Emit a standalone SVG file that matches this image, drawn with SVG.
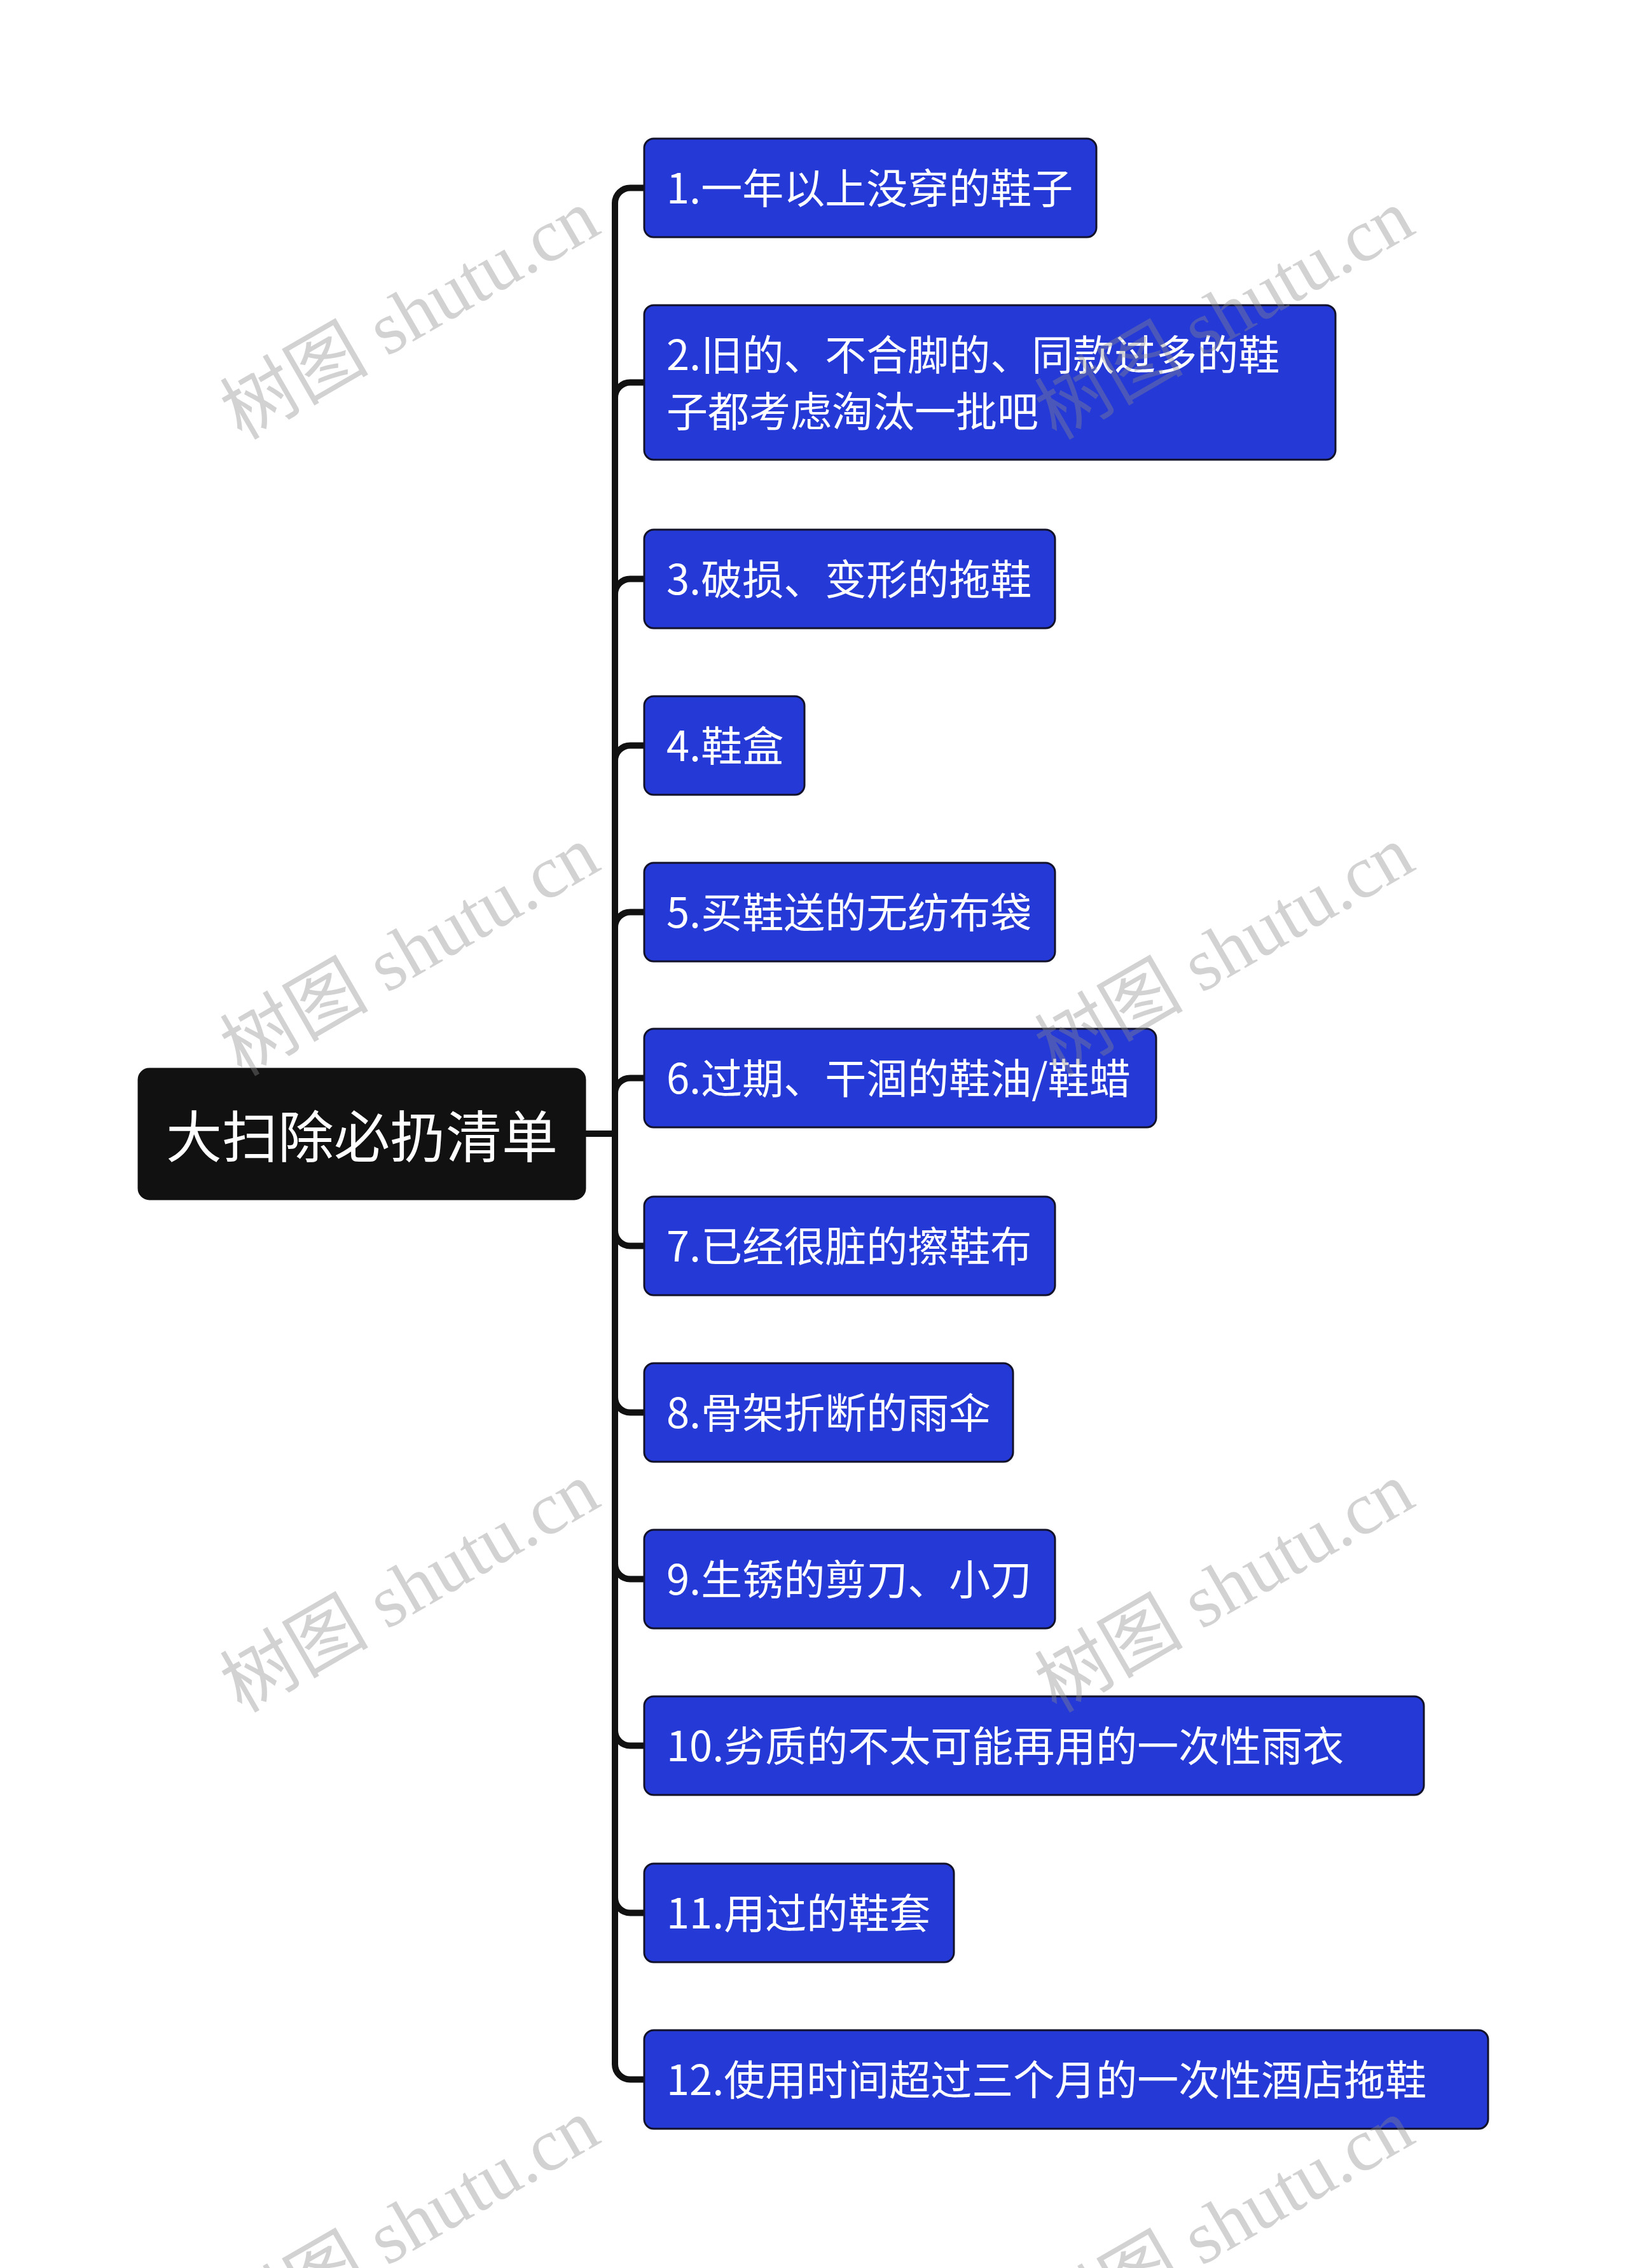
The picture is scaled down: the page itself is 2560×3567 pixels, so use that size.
<svg xmlns="http://www.w3.org/2000/svg" width="2560" height="3567" viewBox="0 0 2560 3567">
<style>
.node rect{fill:#2539d6;stroke:#12122a;stroke-width:3}
.node text{fill:#ffffff;font-family:"Noto Sans CJK SC","Noto Sans",sans-serif;font-size:65px;dominant-baseline:central}
.root rect{fill:#111111;stroke:#111111;stroke-width:3}
.root text{fill:#ffffff;font-family:"Noto Sans CJK SC","Noto Sans",sans-serif;font-size:88px;dominant-baseline:central;text-anchor:middle}
.conn path{fill:none;stroke:#111111;stroke-width:10;stroke-linejoin:round}
.wm{fill:#8c8c8c;opacity:0.38;font-family:"Liberation Serif","Noto Sans CJK SC",serif;font-size:117px}
</style>
<rect x="0" y="0" width="2560" height="3567" fill="#ffffff"/>
<g id="connectors" class="conn">
<path d="M920 1783 H967 V319.5 A24 24 0 0 1 991 295.5 H1013"/>
<path d="M967 1783 V625.5 A24 24 0 0 1 991 601.5 H1013"/>
<path d="M967 1783 V934.5 A24 24 0 0 1 991 910.5 H1013"/>
<path d="M967 1783 V1196.5 A24 24 0 0 1 991 1172.5 H1013"/>
<path d="M967 1783 V1458.5 A24 24 0 0 1 991 1434.5 H1013"/>
<path d="M967 1783 V1719.5 A24 24 0 0 1 991 1695.5 H1013"/>
<path d="M967 1783 V1935.5 A24 24 0 0 0 991 1959.5 H1013"/>
<path d="M967 1783 V2197.5 A24 24 0 0 0 991 2221.5 H1013"/>
<path d="M967 1783 V2459.5 A24 24 0 0 0 991 2483.5 H1013"/>
<path d="M967 1783 V2721.5 A24 24 0 0 0 991 2745.5 H1013"/>
<path d="M967 1783 V2984.5 A24 24 0 0 0 991 3008.5 H1013"/>
<path d="M967 1783 V3246.5 A24 24 0 0 0 991 3270.5 H1013"/>
</g>
<g id="root" class="root">
<rect x="218" y="1681" width="702" height="205" rx="17"/>
<text x="569" y="1781">大扫除必扔清单</text>
</g>
<g id="n1" class="node"><rect x="1013" y="218" width="711" height="155" rx="15"/><text x="1048" y="291.5">1.一年以上没穿的鞋子</text></g>
<g id="n2" class="node"><rect x="1013" y="480" width="1087" height="243" rx="15"/><text x="1048" y="554">2.旧的、不合脚的、同款过多的鞋</text><text x="1048" y="643">子都考虑淘汰一批吧</text></g>
<g id="n3" class="node"><rect x="1013" y="833" width="646" height="155" rx="15"/><text x="1048" y="906.5">3.破损、变形的拖鞋</text></g>
<g id="n4" class="node"><rect x="1013" y="1095" width="252" height="155" rx="15"/><text x="1048" y="1168.5">4.鞋盒</text></g>
<g id="n5" class="node"><rect x="1013" y="1357" width="646" height="155" rx="15"/><text x="1048" y="1430.5">5.买鞋送的无纺布袋</text></g>
<g id="n6" class="node"><rect x="1013" y="1618" width="805" height="155" rx="15"/><text x="1048" y="1691.5">6.过期、干涸的鞋油/鞋蜡</text></g>
<g id="n7" class="node"><rect x="1013" y="1882" width="646" height="155" rx="15"/><text x="1048" y="1955.5">7.已经很脏的擦鞋布</text></g>
<g id="n8" class="node"><rect x="1013" y="2144" width="580" height="155" rx="15"/><text x="1048" y="2217.5">8.骨架折断的雨伞</text></g>
<g id="n9" class="node"><rect x="1013" y="2406" width="646" height="155" rx="15"/><text x="1048" y="2479.5">9.生锈的剪刀、小刀</text></g>
<g id="n10" class="node"><rect x="1013" y="2668" width="1226" height="155" rx="15"/><text x="1048" y="2741.5">10.劣质的不太可能再用的一次性雨衣</text></g>
<g id="n11" class="node"><rect x="1013" y="2931" width="487" height="155" rx="15"/><text x="1048" y="3004.5">11.用过的鞋套</text></g>
<g id="n12" class="node"><rect x="1013" y="3193" width="1327" height="155" rx="15"/><text x="1048" y="3266.5">12.使用时间超过三个月的一次性酒店拖鞋</text></g>
<g id="watermarks">
<text class="wm" transform="translate(380 693) rotate(-30)">树图 shutu.cn</text>
<text class="wm" transform="translate(1661 693) rotate(-30)">树图 shutu.cn</text>
<text class="wm" transform="translate(380 1694) rotate(-30)">树图 shutu.cn</text>
<text class="wm" transform="translate(1661 1694) rotate(-30)">树图 shutu.cn</text>
<text class="wm" transform="translate(380 2695) rotate(-30)">树图 shutu.cn</text>
<text class="wm" transform="translate(1661 2695) rotate(-30)">树图 shutu.cn</text>
<text class="wm" transform="translate(380 3696) rotate(-30)">树图 shutu.cn</text>
<text class="wm" transform="translate(1661 3696) rotate(-30)">树图 shutu.cn</text>
</g>
</svg>
